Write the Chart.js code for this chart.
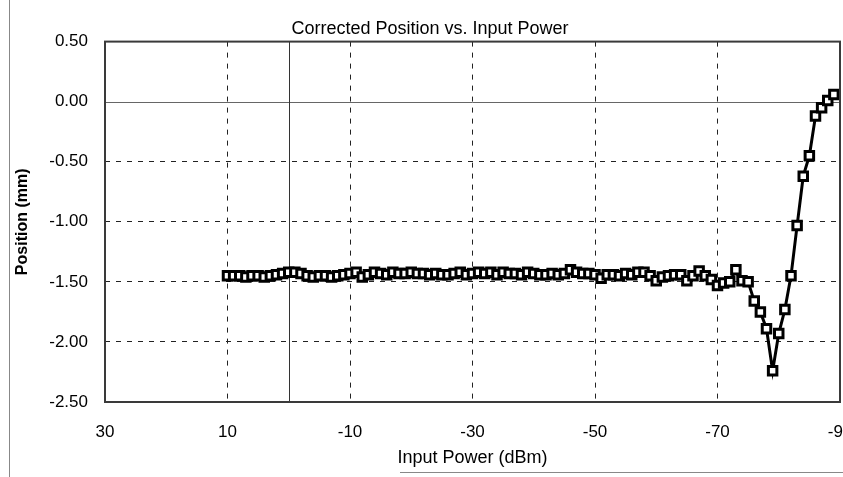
<!DOCTYPE html>
<html>
<head>
<meta charset="utf-8">
<script src="https://cdn.jsdelivr.net/npm/chart.js@4"></script>
<style>
	body { margin: 0; background: #fff; overflow: hidden; }
	#wrap { position: absolute; left: 0; top: 0; width: 852px; height: 477px; }
</style>
</head>
<body>
<div id="wrap"><canvas id="myChart"></canvas></div>
<script>
// input power (dBm) and corrected position (mm)
const powers = [
	10, 9, 8, 7, 6, 5, 4, 3, 2, 1, 0, -1, -2, -3, -4, -5, -6, -7, -8, -9,
	-10, -11, -12, -13, -14, -15, -16, -17, -18, -19, -20, -21, -22, -23, -24, -25, -26, -27, -28, -29,
	-30, -31, -32, -33, -34, -35, -36, -37, -38, -39, -40, -41, -42, -43, -44, -45, -46, -47, -48, -49,
	-50, -51, -52, -53, -54, -55, -56, -57, -58, -59, -60, -61, -62, -63, -64, -65, -66, -67, -68, -69,
	-70, -71, -72, -73, -74, -75, -76, -77, -78, -79, -80, -81, -82, -83, -84, -85, -86, -87, -88, -89,
];
const positions = [
	-1.45, -1.45, -1.45, -1.46, -1.45, -1.45, -1.46, -1.45, -1.44, -1.43, -1.42, -1.42, -1.43, -1.45, -1.46, -1.45, -1.45, -1.46, -1.45, -1.44,
	-1.43, -1.42, -1.46, -1.44, -1.42, -1.43, -1.44, -1.42, -1.43, -1.43, -1.42, -1.43, -1.43, -1.44, -1.43, -1.44, -1.44, -1.43, -1.42, -1.44,
	-1.43, -1.42, -1.43, -1.42, -1.44, -1.42, -1.43, -1.43, -1.44, -1.42, -1.43, -1.44, -1.44, -1.43, -1.44, -1.43, -1.40, -1.42, -1.43, -1.43,
	-1.44, -1.47, -1.44, -1.44, -1.45, -1.43, -1.44, -1.42, -1.42, -1.45, -1.49, -1.46, -1.45, -1.44, -1.44, -1.49, -1.45, -1.41, -1.45, -1.48,
	-1.53, -1.51, -1.50, -1.40, -1.49, -1.50, -1.66, -1.75, -1.89, -2.24, -1.93, -1.73, -1.45, -1.03, -0.62, -0.45, -0.12, -0.05, 0.01, 0.06,
];
const xTicks = [30, 10, -10, -30, -50, -70, -90];
const yTicks = [0.5, 0, -0.5, -1, -1.5, -2, -2.5];

const points = powers.map((p, i) => ({ x: p, y: positions[i] }));

// solid zero lines, plot frame and the scanned page edge
const framePlugin = {
	id: 'frame',
	beforeDatasetsDraw(chart) {
		const { ctx, chartArea: a, scales } = chart;
		ctx.save();
		ctx.lineWidth = 1;
		ctx.strokeStyle = '#666';
		const y0 = Math.round(scales.y.getPixelForValue(0)) + 0.5;
		ctx.beginPath();
		ctx.moveTo(a.left, y0);
		ctx.lineTo(a.right, y0);
		ctx.stroke();
		ctx.strokeStyle = '#333';
		const x0 = Math.round(scales.x.getPixelForValue(0)) + 0.5;
		ctx.beginPath();
		ctx.moveTo(x0, a.top);
		ctx.lineTo(x0, a.bottom);
		ctx.stroke();
		ctx.restore();
	},
	afterDraw(chart) {
		const { ctx, chartArea: a } = chart;
		ctx.save();
		ctx.strokeStyle = '#3a3a3a';
		ctx.lineWidth = 2;
		ctx.strokeRect(a.left, a.top, a.right - a.left, a.bottom - a.top);
		ctx.strokeStyle = '#888';
		ctx.lineWidth = 1;
		ctx.beginPath();
		ctx.moveTo(9.5, 0);
		ctx.lineTo(9.5, 477);
		ctx.moveTo(400, 472.5);
		ctx.lineTo(843, 472.5);
		ctx.stroke();
		ctx.restore();
	},
};

const ctx = document.getElementById('myChart').getContext('2d');

const chart = new Chart(ctx, {
	type: 'line',
	data: {
		datasets: [
			{
				data: points,
				borderColor: '#000',
				borderWidth: 3,
				pointStyle: 'rect',
				pointRadius: 6,
				pointBorderWidth: 3,
				pointBorderColor: '#000',
				pointBackgroundColor: '#fff',
				tension: 0,
			},
		],
	},
	options: {
		responsive: true,
		maintainAspectRatio: false,
		animation: false,
		layout: { padding: { left: 8, right: 0, top: 0, bottom: 0 } },
		plugins: {
			legend: { display: false },
			tooltip: { enabled: false },
			title: {
				display: true,
				text: 'Corrected Position vs. Input Power',
				color: '#000',
				font: { family: 'Liberation Sans', size: 18, weight: 'normal' },
				padding: { top: 18, bottom: 2 },
			},
		},
		scales: {
			x: {
				type: 'linear',
				reverse: true,
				min: -90,
				max: 30,
				afterBuildTicks: (scale) => {
					scale.ticks = xTicks.map((v) => ({ value: v }));
				},
				afterFit: (scale) => {
					scale.height = 75;
					scale.paddingLeft = 0;
					scale.paddingRight = 12;
				},
				ticks: {
					color: '#000',
					font: { family: 'Liberation Sans', size: 17 },
					padding: 20,
					autoSkip: false,
					maxRotation: 0,
					callback: (v) => String(v),
				},
				grid: {
					drawTicks: false,
					color: (c) => (c.tick && (c.tick.value === 30 || c.tick.value === -90) ? 'rgba(0,0,0,0)' : '#222'),
					lineWidth: 1,
				},
				border: { display: false, dash: [5, 6] },
				title: {
					display: true,
					text: 'Input Power (dBm)',
					color: '#000',
					font: { family: 'Liberation Sans', size: 18 },
					padding: { top: 4, bottom: 8 },
				},
			},
			y: {
				min: -2.5,
				max: 0.5,
				afterBuildTicks: (scale) => {
					scale.ticks = yTicks.map((v) => ({ value: v }));
				},
				afterFit: (scale) => {
					scale.width = 97;
				},
				ticks: {
					color: '#000',
					font: { family: 'Liberation Sans', size: 17 },
					padding: 17,
					callback: (v) => v.toFixed(2),
				},
				grid: {
					drawTicks: false,
					color: (c) => (c.tick && (c.tick.value === 0 || c.tick.value === 0.5 || c.tick.value === -2.5) ? 'rgba(0,0,0,0)' : '#222'),
					lineWidth: 1,
				},
				border: { display: false, dash: [5, 6] },
				title: {
					display: true,
					text: 'Position (mm)',
					color: '#000',
					font: { family: 'Liberation Sans', size: 16, weight: 'bold' },
					padding: { top: 5, bottom: 12 },
				},
			},
		},
	},
	plugins: [framePlugin],
});
</script>
</body>
</html>
